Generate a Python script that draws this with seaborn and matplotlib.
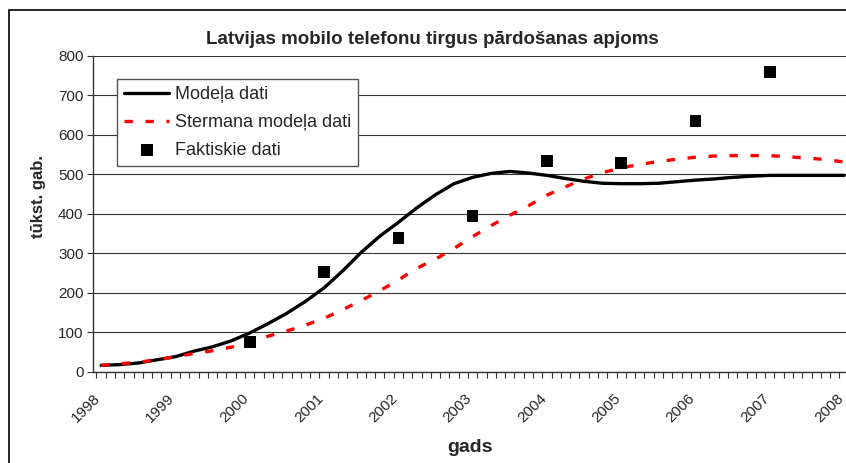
import matplotlib
matplotlib.use("Agg")
import matplotlib.pyplot as plt
import matplotlib.ticker as mticker
from matplotlib.patches import Rectangle
import seaborn as sns

# model step is 1/8 of a year, values read every second step
steps = list(range(0, 81, 2))
modela = [16, 18, 22, 30, 38, 52, 63, 78, 98, 122,
          148, 178, 212, 255, 302, 343, 378, 415, 448, 476,
          492, 502, 507, 503, 497, 489, 482, 477, 476, 476,
          477, 481, 485, 488, 492, 495, 497, 497, 497, 497, 497]
stermana = [16, 20, 24, 30, 38, 46, 53, 62, 75, 90,
            103, 118, 135, 157, 180, 205, 232, 262, 285, 312,
            342, 370, 396, 420, 447, 468, 488, 504, 516, 525,
            532, 538, 543, 546, 547, 547, 547, 544, 541, 537, 531]
fakt_gadi = [2000, 2001, 2002, 2003, 2004, 2005, 2006, 2007]
fakt = [75, 252, 338, 394, 533, 528, 635, 759]
gadi = list(range(1998, 2009))

laiks = [1998 + s / 8 for s in steps]

sns.set_style("white")
plt.rcParams['font.family'] = ['Liberation Sans', 'DejaVu Sans']

W, H = 846, 463
fig = plt.figure(figsize=(W / 100, H / 100), dpi=100)
ax = fig.add_axes([93.3 / W, 1 - 371.7 / H, 1 - 93.3 / W, 316 / H])

sns.lineplot(x=laiks, y=modela, color='black', lw=2.4, ax=ax, label='Modeļa dati')
sns.lineplot(x=laiks, y=stermana, color='red', lw=2.4, ax=ax,
             linestyle=(0, (2.5, 3.8)), label='Stermana modeļa dati')
sns.scatterplot(x=fakt_gadi, y=fakt, marker='s', s=70, color='black',
                edgecolor='none', ax=ax, label='Faktiskie dati', zorder=3)

ax.set_xlim(1998 - 1 / 16, 1998 + 80.2 / 8)
ax.set_ylim(0, 800)
ax.set_yticks(range(0, 801, 100))
ax.yaxis.grid(True, color='#333333', lw=0.8)
ax.set_axisbelow(True)

# year labels sit a little left of the category centre (tick marks are hidden)
ax.set_xticks([g - 0.105 for g in gadi])
ax.set_xticklabels([str(g) for g in gadi], rotation=45, ha='right',
                   rotation_mode='anchor', fontsize=11)
ax.xaxis.set_minor_locator(mticker.FixedLocator([1998 - 1 / 16 + k / 8 for k in range(82)]))
ax.tick_params(axis='x', which='major', length=0, pad=14)
ax.tick_params(axis='x', which='minor', length=4, width=0.8, color='#333333', bottom=True)
ax.tick_params(axis='y', length=4, width=0.8, color='#333333', left=True, labelsize=11, pad=3)

for side in ['top', 'right']:
    ax.spines[side].set_visible(False)
for side in ['left', 'bottom']:
    ax.spines[side].set_color('#333333')
    ax.spines[side].set_linewidth(1)

ax.set_xlabel('')
ax.set_ylabel('')
fig.text(432 / W, 1 - 40 / H, 'Latvijas mobilo telefonu tirgus pārdošanas apjoms',
         ha='center', va='center', fontsize=13.5, fontweight='bold')
fig.text(470 / W, 1 - 447 / H, 'gads', ha='center', va='center', fontsize=14, fontweight='bold')
fig.text(39 / W, 1 - 196 / H, 'tūkst. gab.', ha='center', va='center', rotation=90,
         fontsize=12, fontweight='bold')

leg = ax.legend(loc='upper left', bbox_to_anchor=(117 / W, 1 - 79 / H),
                bbox_transform=fig.transFigure, borderaxespad=0, fontsize=13,
                frameon=True, fancybox=False, framealpha=1, edgecolor='#555555',
                handlelength=2.5, handletextpad=0.3, labelspacing=0.6, borderpad=0.4)
leg.get_frame().set_linewidth(1)

fig.patches.append(Rectangle((9 / W, -0.1), 1.2, 1.1 - 10 / H, transform=fig.transFigure,
                             fill=False, edgecolor='black', lw=1.2, clip_on=False))

fig.savefig('out.png', dpi=100)
